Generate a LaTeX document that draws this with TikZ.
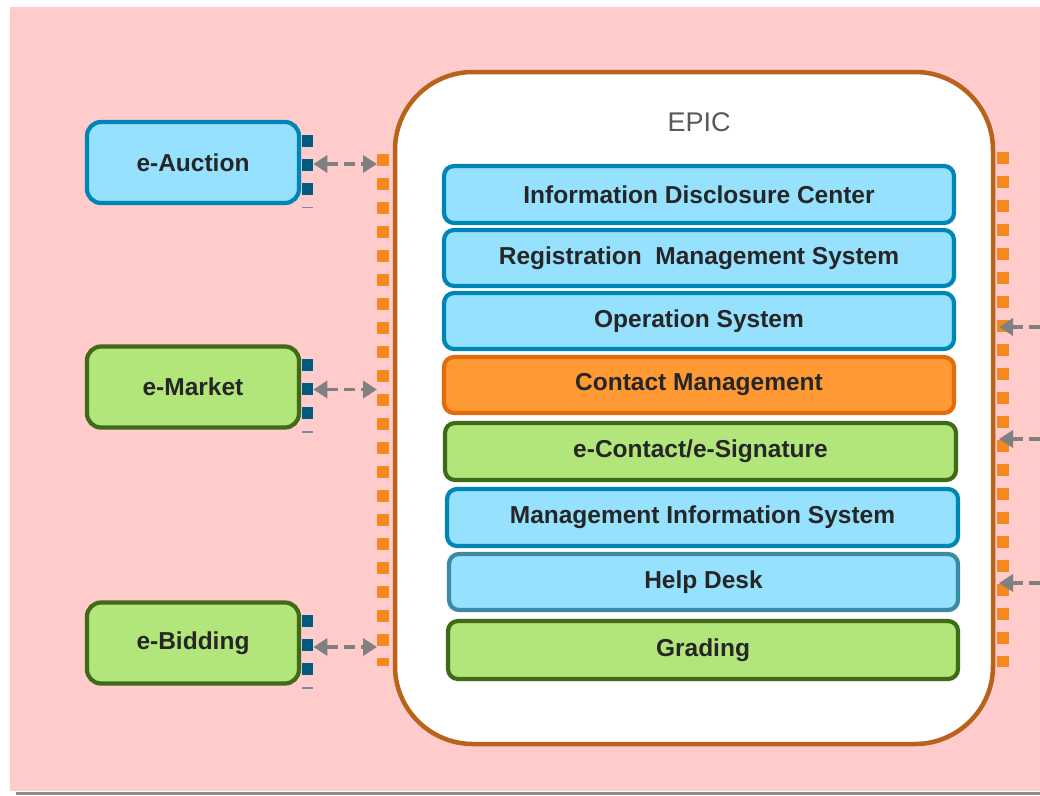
\documentclass[tikz,border=0pt]{standalone}
\usepackage{fontspec}
\setmainfont{Liberation Sans}
\usetikzlibrary{arrows.meta}
\definecolor{pinkbg}{HTML}{FFCBCB}
\definecolor{bluefill}{HTML}{95E1FE}
\definecolor{blueline}{HTML}{0086B6}
\definecolor{helpline}{HTML}{3A8AA3}
\definecolor{orangefill}{HTML}{FF9933}
\definecolor{orangeline}{HTML}{E36C0A}
\definecolor{greenfill}{HTML}{B2E57A}
\definecolor{greenline}{HTML}{3F6A17}
\definecolor{txt}{HTML}{262626}
\definecolor{portblue}{HTML}{005A82}
\definecolor{portline}{HTML}{7090B0}
\definecolor{dotorange}{HTML}{F5891F}
\definecolor{brown}{HTML}{B8621B}
\definecolor{arrgray}{HTML}{808080}
\definecolor{epicgray}{HTML}{595959}
\begin{document}
\begin{tikzpicture}[x=1pt,y=-1pt,
  epicbox/.style={draw=brown, fill=white, line width=4.5pt, rounded corners=78pt,
    minimum width=598pt, minimum height=672pt, inner sep=0pt},
  epictext/.style={text=epicgray, font=\fontsize{27}{30}\selectfont, inner sep=0pt},
  layer/.style={line width=4.2pt, rounded corners=10pt, inner sep=0pt,
    minimum width=510pt, minimum height=56pt, text=txt,
    font=\bfseries\fontsize{24.5}{28}\selectfont},
  bluebox/.style={layer, draw=blueline, fill=bluefill},
  helpbox/.style={layer, draw=helpline, fill=bluefill},
  orangebox/.style={layer, draw=orangeline, fill=orangefill},
  greenbox/.style={layer, draw=greenline, fill=greenfill},
  side/.style={line width=4.2pt, rounded corners=14pt, inner sep=0pt,
    minimum width=212pt, minimum height=81pt, text=txt,
    font=\bfseries\fontsize{24.5}{28}\selectfont},
  sideblue/.style={side, draw=blueline, fill=bluefill},
  sidegreen/.style={side, draw=greenline, fill=greenfill},
  port/.style={fill=portblue, minimum width=11pt, minimum height=12pt, inner sep=0pt, anchor=west},
  portdash/.style={draw=portline, line width=1.5pt},
  dotcol/.style={draw=dotorange, line width=12pt, dash pattern=on 12pt off 12pt},
  darr/.style={draw=arrgray, line width=3.5pt, dash pattern=on 11pt off 6pt,
    {Triangle[length=14pt,width=17pt]}-{Triangle[length=14pt,width=17pt]}},
  rarr/.style={draw=arrgray, line width=3.5pt, dash pattern=on 11pt off 6pt,
    -{Triangle[length=14pt,width=17pt]}}
]
\useasboundingbox (0,0) rectangle (1040,795);
\fill[pinkbg] (10,7) rectangle (1040,791);
\draw[draw=arrgray!90, line width=3pt] (16,793) -- (1040,793);

% EPIC container
\node[epicbox] (epic) at (694,408) {};
\node[epictext] (epiclbl) at (699,122) {EPIC};

% orange dotted columns
\draw[dotcol] (383,154) -- (383,666);
\draw[dotcol] (1003,152) -- (1003,667);

% inner layers
\node[bluebox] (idc) at (699,194.5) [minimum height=57pt] {Information Disclosure Center};
\node[bluebox] (rms) at (699,258) {Registration\ \ Management System};
\node[bluebox] (ops) at (699,321) {Operation System};
\node[orangebox] (cm) at (699,385) {Contact Management};
\node[greenbox] (ecs) at (700.5,451.5) [minimum width=511pt, minimum height=57pt] {e-Contact/e-Signature};
\node[bluebox] (mis) at (702.5,517.5) [minimum width=511pt, minimum height=57pt] {Management Information System};
\node[helpbox] (hd) at (703.5,582) [minimum width=509pt] {Help Desk};
\node[greenbox] (gr) at (703,650) [minimum height=58pt] {Grading};

% left systems
\node[sideblue] (auc) at (193,162.5) {e-Auction};
\node[sidegreen] (mkt) at (193,387) {e-Market};
\node[sidegreen] (bid) at (193,643) {e-Bidding};

% ports
\node[port] (aucP1) at (302,140.5) {};
\node[port] (aucP2) at (302,164.5) {};
\node[port] (aucP3) at (302,188.5) {};
\draw[portdash] (302,207.5) -- (313,207.5);
\node[port] (mktP1) at (302,365) {};
\node[port] (mktP2) at (302,389) {};
\node[port] (mktP3) at (302,413) {};
\draw[portdash] (302,432) -- (313,432);
\node[port] (bidP1) at (302,621) {};
\node[port] (bidP2) at (302,645) {};
\node[port] (bidP3) at (302,669) {};
\draw[portdash] (302,688) -- (313,688);

% connector ends
\coordinate (aucL) at (377,164);
\coordinate (mktL) at (377,389.5);
\coordinate (bidL) at (377,647);
\coordinate (r1s) at (1040,327);
\coordinate (r1e) at (999,327);
\coordinate (r2s) at (1040,439);
\coordinate (r2e) at (999,439);
\coordinate (r3s) at (1040,583);
\coordinate (r3e) at (999,583);

\draw[darr] (aucP2.east |- aucL) -- (aucL);
\draw[darr] (mktP2.east |- mktL) -- (mktL);
\draw[darr] (bidP2.east |- bidL) -- (bidL);
\draw[rarr] (r1s) -- (r1e);
\draw[rarr] (r2s) -- (r2e);
\draw[rarr] (r3s) -- (r3e);
\end{tikzpicture}
\end{document}
